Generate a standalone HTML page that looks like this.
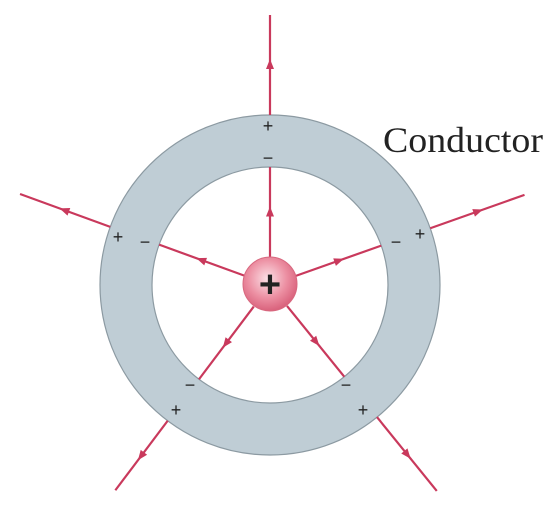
<!DOCTYPE html>
<html><head><meta charset="utf-8"><style>
html,body{margin:0;padding:0;background:#fff;overflow:hidden;}
svg{display:block;}
</style></head><body>
<svg id="fig" width="559" height="513" viewBox="0 0 559 513" xmlns="http://www.w3.org/2000/svg">
<defs>
<radialGradient id="sph" cx="0.45" cy="0.4" r="0.6">
<stop offset="0" stop-color="#fbe0e6"/><stop offset="0.6" stop-color="#ec8fa2"/><stop offset="1" stop-color="#d9627c"/>
</radialGradient>
</defs>
<circle cx="270" cy="285" r="144" fill="none" stroke="#bfcdd5" stroke-width="52"/>
<circle cx="270" cy="285" r="170" fill="none" stroke="#8c9aa2" stroke-width="1.2"/>
<circle cx="270" cy="285" r="118" fill="none" stroke="#8c9aa2" stroke-width="1.2"/>
<g id="lines"></g>
<g font-family="Liberation Sans, sans-serif" font-size="18" fill="#222" text-anchor="middle">
<text x="268" y="132">+</text>
<text x="268" y="164">−</text>
<text x="118" y="243">+</text>
<text x="145" y="248">−</text>
<text x="420" y="240">+</text>
<text x="396" y="248">−</text>
<text x="190" y="391">−</text>
<text x="176" y="416">+</text>
<text x="346" y="391">−</text>
<text x="363" y="416">+</text>
</g>
<circle cx="270" cy="284" r="27" fill="url(#sph)" stroke="#d8687f" stroke-width="1"/>
<text x="270" y="297" text-anchor="middle" font-family="Liberation Sans, sans-serif" font-size="38" font-weight="bold" fill="#222">+</text>
<text x="383" y="152" font-family="Liberation Serif, serif" font-size="36" textLength="160" lengthAdjust="spacingAndGlyphs" fill="#222">Conductor</text>
</svg>
<script>
// field line directions (degrees, screen coords, 0 = right, positive = down)
const angles = [-90, -160, -19.5, 127, 51];
const outerLens = [100, 96, 100, 87, 95];
const cx = 270, cy = 285, rIn = 118, rOut = 170, rQ = 27;
const g = document.getElementById('lines');
const NS = 'http://www.w3.org/2000/svg';
const col = '#c9395c';
function seg(a, r1, r2, name) {
  const t = a * Math.PI / 180, c = Math.cos(t), s = Math.sin(t);
  const l = document.createElementNS(NS, 'line');
  
  
  l.setAttribute('x1', cx + c * r1); l.setAttribute('y1', cy + s * r1);
  l.setAttribute('x2', cx + c * r2); l.setAttribute('y2', cy + s * r2);
  l.setAttribute('stroke', col); l.setAttribute('stroke-width', '2.2');
  g.appendChild(l);
  const m = (r1 + r2) / 2, mx = cx + c * m, my = cy + s * m;
  const p = document.createElementNS(NS, 'polygon');
  
  
  const px = -s, py = c;
  p.setAttribute('points', [[mx + c * 6, my + s * 6], [mx - c * 4 + px * 4, my - s * 4 + py * 4], [mx - c * 4 - px * 4, my - s * 4 - py * 4]].map(q => q.join(',')).join(' '));
  p.setAttribute('fill', col);
  g.appendChild(p);
}
angles.forEach((a, i) => {
  seg(a, rQ, rIn, 'inner-field-line');
  seg(a, rOut, rOut + outerLens[i], 'outer-field-line');
});
</script>
</body></html>
